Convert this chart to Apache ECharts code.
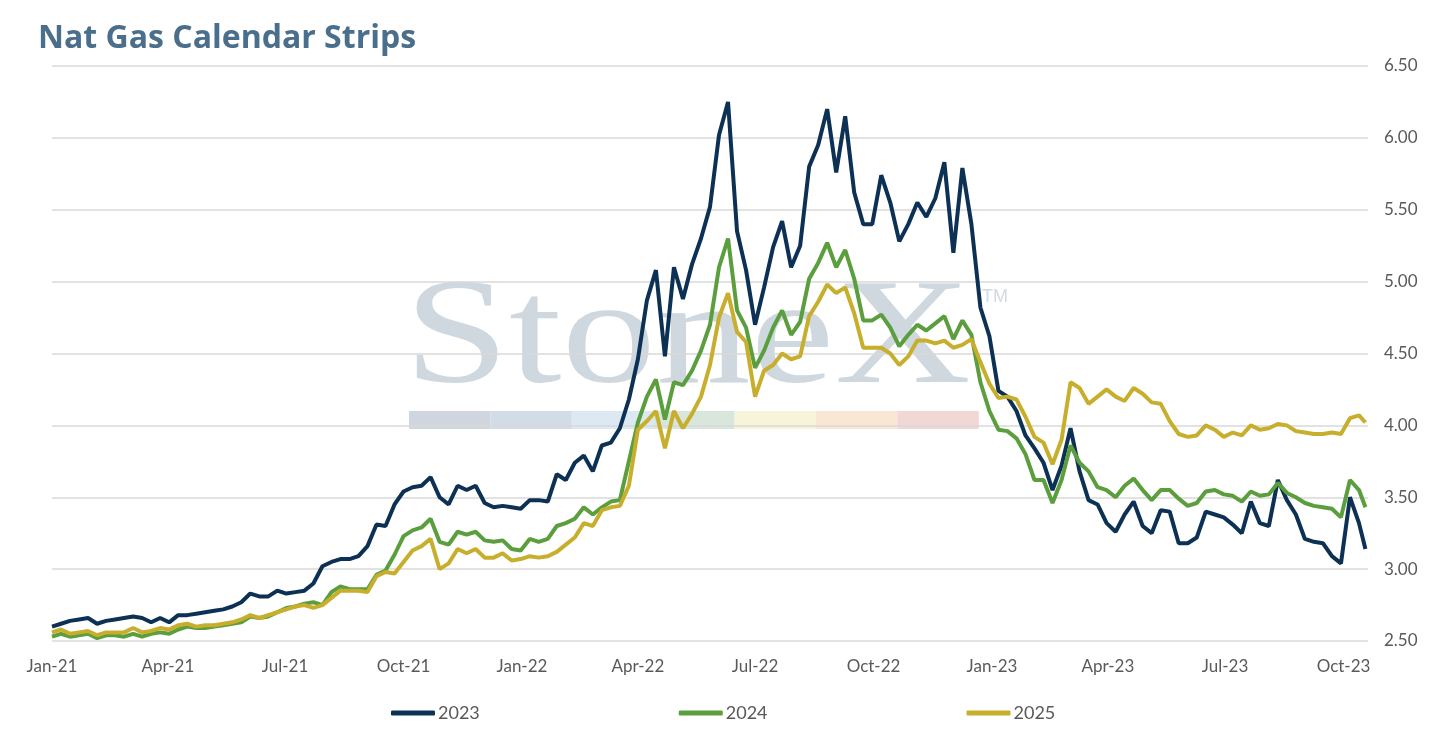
<!DOCTYPE html>
<html>
<head>
<meta charset="utf-8">
<title>Nat Gas Calendar Strips</title>
<script src="https://cdn.jsdelivr.net/npm/echarts@6/dist/echarts.min.js"></script>
<style>
  html, body { margin: 0; padding: 0; background: #fff; }
  #chart { width: 1450px; height: 732px; }
</style>
</head>
<body>
<div id="chart"></div>
<script>
// weekly closes from Jan-21, last point is the latest print (18 Oct 23)
var startDate = Date.UTC(2021, 0, 1);
var lastDate = Date.UTC(2023, 9, 18);

var strip2023 = [
  2.60, 2.62, 2.64, 2.65, 2.66, 2.62, 2.64, 2.65, 2.66, 2.67,
  2.66, 2.63, 2.66, 2.63, 2.68, 2.68, 2.69, 2.70, 2.71, 2.72,
  2.74, 2.77, 2.83, 2.81, 2.81, 2.85, 2.83, 2.84, 2.85, 2.90,
  3.02, 3.05, 3.07, 3.07, 3.09, 3.16, 3.31, 3.30, 3.45, 3.54,
  3.57, 3.58, 3.64, 3.50, 3.45, 3.58, 3.55, 3.58, 3.46, 3.43,
  3.44, 3.43, 3.42, 3.48, 3.48, 3.47, 3.66, 3.62, 3.74, 3.79,
  3.68, 3.86, 3.88, 3.98, 4.18, 4.46, 4.87, 5.08, 4.48, 5.10,
  4.88, 5.12, 5.30, 5.52, 6.02, 6.25, 5.35, 5.08, 4.70, 4.96,
  5.24, 5.42, 5.10, 5.25, 5.80, 5.95, 6.20, 5.76, 6.15, 5.62,
  5.40, 5.40, 5.74, 5.55, 5.28, 5.40, 5.55, 5.45, 5.58, 5.83,
  5.20, 5.79, 5.40, 4.82, 4.62, 4.24, 4.20, 4.10, 3.93, 3.84,
  3.74, 3.55, 3.72, 3.98, 3.68, 3.48, 3.45, 3.32, 3.26, 3.38,
  3.47, 3.30, 3.25, 3.41, 3.40, 3.18, 3.18, 3.22, 3.40, 3.38,
  3.36, 3.31, 3.25, 3.47, 3.32, 3.30, 3.62, 3.48, 3.38, 3.21,
  3.19, 3.18, 3.09, 3.04, 3.50, 3.32,
  3.14
];

var strip2024 = [
  2.53, 2.55, 2.53, 2.54, 2.55, 2.52, 2.54, 2.54, 2.53, 2.55,
  2.53, 2.55, 2.56, 2.55, 2.58, 2.60, 2.59, 2.59, 2.60, 2.61,
  2.62, 2.63, 2.67, 2.66, 2.67, 2.70, 2.73, 2.74, 2.76, 2.77,
  2.75, 2.84, 2.88, 2.86, 2.86, 2.86, 2.96, 2.99, 3.10, 3.23,
  3.27, 3.29, 3.35, 3.19, 3.17, 3.26, 3.24, 3.26, 3.20, 3.19,
  3.20, 3.14, 3.13, 3.21, 3.19, 3.21, 3.30, 3.32, 3.35, 3.43,
  3.38, 3.43, 3.47, 3.48, 3.75, 4.02, 4.20, 4.32, 4.04, 4.30,
  4.28, 4.38, 4.52, 4.70, 5.10, 5.30, 4.80, 4.68, 4.40, 4.52,
  4.68, 4.80, 4.63, 4.72, 5.02, 5.13, 5.27, 5.10, 5.22, 5.02,
  4.73, 4.73, 4.77, 4.68, 4.55, 4.63, 4.70, 4.66, 4.71, 4.76,
  4.60, 4.73, 4.63, 4.30, 4.10, 3.97, 3.96, 3.91, 3.80, 3.62,
  3.62, 3.46, 3.62, 3.86, 3.74, 3.68, 3.57, 3.55, 3.50, 3.58,
  3.63, 3.55, 3.48, 3.55, 3.55, 3.49, 3.44, 3.46, 3.54, 3.55,
  3.52, 3.51, 3.47, 3.54, 3.51, 3.52, 3.60, 3.53, 3.50, 3.46,
  3.44, 3.43, 3.42, 3.36, 3.62, 3.55,
  3.43
];

var strip2025 = [
  2.56, 2.58, 2.55, 2.56, 2.57, 2.54, 2.56, 2.56, 2.56, 2.59,
  2.56, 2.57, 2.59, 2.58, 2.61, 2.62, 2.60, 2.61, 2.61, 2.62,
  2.63, 2.65, 2.68, 2.66, 2.68, 2.70, 2.72, 2.74, 2.75, 2.73,
  2.75, 2.80, 2.85, 2.85, 2.85, 2.84, 2.95, 2.98, 2.97, 3.05,
  3.13, 3.16, 3.21, 3.00, 3.04, 3.14, 3.11, 3.14, 3.08, 3.08,
  3.11, 3.06, 3.07, 3.09, 3.08, 3.09, 3.12, 3.17, 3.22, 3.32,
  3.30, 3.41, 3.43, 3.44, 3.58, 3.97, 4.03, 4.10, 3.84, 4.10,
  3.98, 4.08, 4.20, 4.42, 4.75, 4.92, 4.65, 4.58, 4.20, 4.38,
  4.42, 4.50, 4.46, 4.48, 4.76, 4.86, 4.98, 4.92, 4.96, 4.78,
  4.54, 4.54, 4.54, 4.50, 4.42, 4.48, 4.59, 4.59, 4.57, 4.59,
  4.54, 4.56, 4.60, 4.44, 4.29, 4.19, 4.20, 4.18, 4.06, 3.92,
  3.88, 3.73, 3.90, 4.30, 4.26, 4.15, 4.20, 4.25, 4.20, 4.17,
  4.26, 4.22, 4.16, 4.15, 4.03, 3.94, 3.92, 3.93, 4.00, 3.97,
  3.92, 3.95, 3.93, 4.00, 3.97, 3.98, 4.01, 4.00, 3.96, 3.95,
  3.94, 3.94, 3.95, 3.94, 4.05, 4.07,
  4.02
];

var seriesNames = ["2023", "2024", "2025"];
var seriesColors = ["#0c3154", "#5b9e3d", "#c8ae2d"];

// date axis: one point per week, then the last print
var weeks = [];
for (var i = 0; i < strip2023.length - 1; i++) {
  weeks.push(startDate + i * 7 * 86400000);
}
weeks.push(lastDate);

function pairs(values) {
  return weeks.map(function (t, i) { return [t, values[i]]; });
}

var chart = echarts.init(document.getElementById("chart"));

// faint logo behind the lines
var wmBars = ["#cfd6dd", "#d2dce6", "#dde9f2", "#d8e6dc", "#f7f4da", "#f9e6d4", "#f2d7d7"];
var watermark = [
  {
    type: "text",
    x: 404,
    y: 268,
    scaleX: 1.26,
    z: 0,
    silent: true,
    style: {
      text: "StoneX",
      font: "150px 'Liberation Serif'",
      fill: "#cfd7df"
    }
  },
  {
    type: "text",
    x: 982,
    y: 288,
    z: 0,
    silent: true,
    style: { text: "TM", font: "18px 'Liberation Sans'", fill: "#d3dae2" }
  }
];
wmBars.forEach(function (c, i) {
  watermark.push({
    type: "rect",
    z: 0,
    silent: true,
    shape: { x: 409 + i * 81.4, y: 411, width: 81.4, height: 18 },
    style: { fill: c }
  });
});

var axisFont = { color: "#595959", fontSize: 17, fontFamily: "Lato" };

var option = {
  backgroundColor: "#ffffff",
  animation: false,
  title: {
    text: "Nat Gas Calendar Strips",
    left: 33,
    top: 18,
    textStyle: {
      color: "#4a6f8c",
      fontSize: 32,
      fontWeight: "bold",
      fontFamily: "Open Sans"
    }
  },
  graphic: watermark,
  legend: {
    data: seriesNames,
    left: 386,
    top: 699,
    itemWidth: 44,
    itemHeight: 5,
    itemGap: 199,
    icon: "roundRect",
    textStyle: { color: "#595959", fontSize: 18, fontFamily: "Lato", padding: [0, 0, 0, -2] }
  },
  grid: { left: 52, right: 82, top: 66, bottom: 91 },
  xAxis: {
    type: "time",
    min: startDate,
    max: Date.UTC(2023, 9, 20),
    splitNumber: 11,
    axisLine: { show: false },
    axisTick: { show: false },
    splitLine: { show: false },
    axisLabel: Object.assign({
      margin: 17,
      formatter: "{MMM}-{yy}",
      hideOverlap: false
    }, axisFont)
  },
  yAxis: {
    type: "value",
    position: "right",
    min: 2.5,
    max: 6.5,
    interval: 0.5,
    axisLine: { show: false },
    axisTick: { show: false },
    splitLine: { lineStyle: { color: "#d9d9d9", width: 1.5 } },
    axisLabel: Object.assign({
      margin: 16,
      formatter: function (v) { return v.toFixed(2); }
    }, axisFont)
  },
  series: [
    { name: "2023", type: "line", data: pairs(strip2023) },
    { name: "2024", type: "line", data: pairs(strip2024) },
    { name: "2025", type: "line", data: pairs(strip2025) }
  ].map(function (s, i) {
    s.showSymbol = false;
    s.symbol = "none";
    s.color = seriesColors[i];
    s.lineStyle = { width: 4, color: seriesColors[i] };
    s.z = 3;
    return s;
  })
};

chart.setOption(option);
</script>
</body>
</html>
